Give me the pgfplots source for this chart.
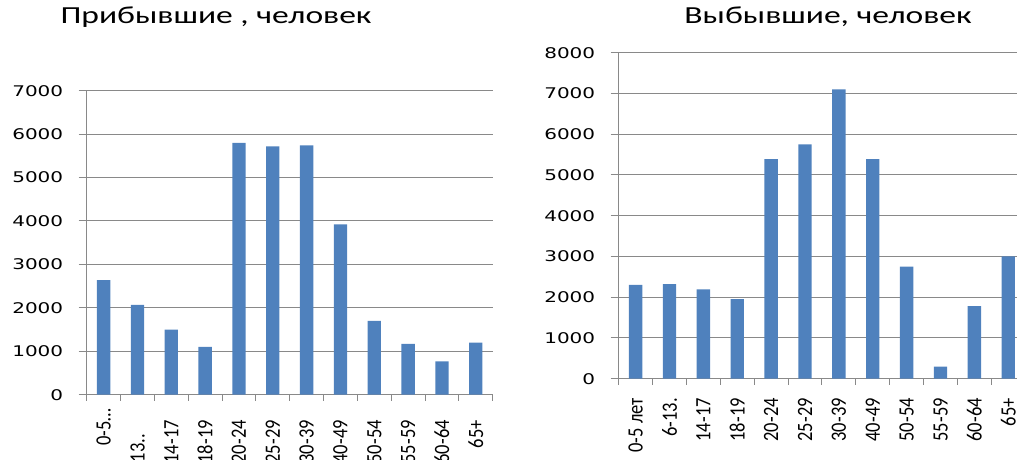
\documentclass[border=0pt]{standalone}
\usepackage{pgfplots}
\pgfplotsset{compat=1.18}
\usepackage{graphicx}
\usepackage{fontspec}
\setmainfont{Carlito}
\newfontfamily\numfont{DejaVu Sans}
\definecolor{barblue}{HTML}{4F81BD}
\definecolor{axgray}{HTML}{898989}
\newcommand\yt[1]{\scalebox{1.36}[1]{#1}}
\newcommand\xl[1]{\scalebox{1}[1.18]{#1}}
\pgfplotsset{
  mychart/.style={
    scale only axis, anchor=south west,
    ybar, bar width=13.3pt,
    xmin=-0.5, xmax=11.5, ymin=0,
    axis x line*=bottom, axis y line*=left,
    axis line style={draw=axgray, line width=1pt, -},
    ymajorgrids, grid style={draw=axgray, line width=1pt},
    xtick={0,...,11},
    minor xtick={-0.5,0.5,...,11.5},
    major x tick style={draw=none},
    minor x tick style={draw=axgray, line width=1pt},
    y tick style={draw=axgray, line width=1pt},
    tick align=outside,
    major tick length=8pt, minor tick length=6pt,
    yticklabel style={font=\numfont\fontsize{14.7}{16}\selectfont, anchor=east, xshift=-12pt},
    xticklabel style={font=\fontsize{18.5}{20}\selectfont, rotate=90, anchor=east},
    title style={font=\fontsize{24.5}{29}\selectfont, anchor=base},
    scaled y ticks=false,
  }
}
\begin{document}
\begin{tikzpicture}
\useasboundingbox (0,0) rectangle (1017pt,459pt);
\begin{axis}[mychart,
  at={(86.7pt,64.3pt)}, width=406pt, height=304pt,
  ymax=7000,
  ytick={0,1000,2000,3000,4000,5000,6000,7000},
  yticklabels={\yt{0},\yt{1000},\yt{2000},\yt{3000},\yt{4000},\yt{5000},\yt{6000},\yt{7000}},
  xticklabels={{\xl{0-5…}\kern-12pt},{\xl{6-13..}\kern14pt},\xl{14-17},\xl{18-19},\xl{20-24},\xl{25-29},\xl{30-39},\xl{40-49},\xl{50-54},\xl{55-59},\xl{60-64},\xl{65+}},
  xticklabel style={xshift=-14pt},
  title={\scalebox{1.37}[1]{Прибывшие , человек}},
  title style={at={(0.3185,1.202)}},
]
\addplot[fill=barblue, draw=none] coordinates {
(0,2640) (1,2070) (2,1500) (3,1100) (4,5800) (5,5720)
(6,5740) (7,3920) (8,1700) (9,1170) (10,770) (11,1200)};
\end{axis}
\begin{axis}[mychart,
  at={(618.7pt,80.3pt)}, width=406.5pt, height=326pt,
  ymax=8000,
  ytick={0,1000,2000,3000,4000,5000,6000,7000,8000},
  yticklabels={\yt{0},\yt{1000},\yt{2000},\yt{3000},\yt{4000},\yt{5000},\yt{6000},\yt{7000},\yt{8000}},
  xticklabels={\xl{0-5 лет},\xl{6-13.},\xl{14-17},\xl{18-19},\xl{20-24},\xl{25-29},\xl{30-39},\xl{40-49},\xl{50-54},\xl{55-59},\xl{60-64},\xl{65+}},
  xticklabel style={xshift=-8pt},
  title={\scalebox{1.37}[1]{Выбывшие, человек}},
  title style={at={(0.515,1.0727)}},
]
\addplot[fill=barblue, draw=none] coordinates {
(0,2300) (1,2320) (2,2190) (3,1950) (4,5390) (5,5750)
(6,7100) (7,5390) (8,2750) (9,295) (10,1780) (11,3000)};
\end{axis}
\end{tikzpicture}
\end{document}
